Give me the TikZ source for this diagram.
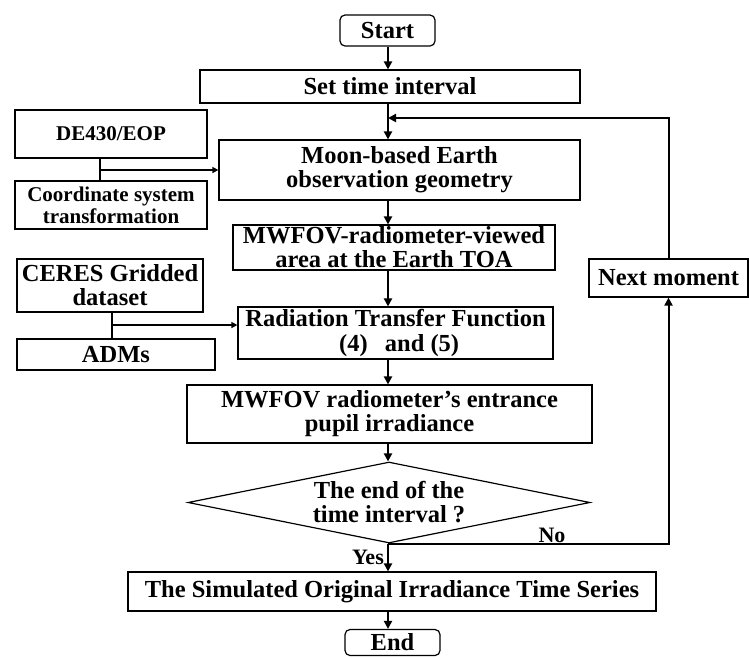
\documentclass[tikz,border=0pt]{standalone}
\usepackage{fontspec}
\setmainfont{Liberation Serif}
\usetikzlibrary{shapes.geometric,arrows.meta}

\begin{document}
\begin{tikzpicture}[x=1pt,y=-1pt,
  procbox/.style={rectangle, draw, line width=1.2pt, align=center, inner sep=1pt,
    font=\bfseries\fontsize{24.5}{24}\selectfont},
  termbox/.style={procbox, rounded corners=5pt},
  sidebox/.style={procbox, font=\bfseries\fontsize{21}{22}\selectfont},
  decbox/.style={diamond, draw, line width=1.2pt, aspect=5, inner sep=0pt, align=center,
    font=\bfseries\fontsize{24.5}{24}\selectfont},
  lbl/.style={inner sep=0pt, font=\bfseries\fontsize{22}{22}\selectfont},
  arr/.style={-{Triangle[length=8pt,width=8pt]}, line width=2pt},
  sidearr/.style={-{Triangle[length=6pt,width=6pt]}, line width=1.4pt},
  link/.style={line width=2pt}
]
\fill[white] (0,0) rectangle (749,657);
\useasboundingbox (0,0) rectangle (749,657);

% main column
\node[termbox, minimum width=95pt, minimum height=31pt] (start) at (387.5,30.5) {Start};
\node[procbox, minimum width=380pt, minimum height=33pt] (settime) at (390,86.5) {Set time interval};
\node[procbox, minimum width=361pt, minimum height=60pt] (geom) at (399.5,170) {Moon-based Earth\\observation geometry};
\node[procbox, minimum width=322pt, minimum height=45pt] (viewed) at (394,247.5) {MWFOV-radiometer-viewed\\area at the Earth TOA};
\node[procbox, minimum width=315pt, minimum height=52pt] (rtf) at (395.5,333) {Radiation Transfer Function\\[1pt]\hspace{0.3em}(4)\hspace{0.7em}and (5)};
\node[procbox, minimum width=405pt, minimum height=58pt] (pupil) at (389.5,414) {MWFOV radiometer’s entrance\\pupil irradiance};
\node[decbox, minimum width=402pt, minimum height=81pt] (isend) at (389,502.5) {The end of the\\time interval ?};
\node[procbox, minimum width=528pt, minimum height=39pt] (series) at (392,591.5) {The Simulated Original Irradiance Time Series};
\node[termbox, minimum width=95pt, minimum height=26pt] (finish) at (392.5,642.5) {End};

% inputs on the left, loop box on the right
\node[sidebox, minimum width=192pt, minimum height=48pt] (ephem) at (111,134) {DE430/EOP};
\node[sidebox, minimum width=192pt, minimum height=48pt] (transf) at (111,205) {Coordinate system\\transformation};
\node[procbox, minimum width=186pt, minimum height=53pt] (ceres) at (110,285.5) {CERES Gridded\\dataset};
\node[procbox, minimum width=198pt, minimum height=31pt] (adms) at (116,354.5) {ADMs};
\node[procbox, minimum width=159pt, minimum height=38pt] (nextm) at (668.5,278) {Next moment};

\coordinate (axis) at (388,0);
\coordinate (ja) at (100,170);
\coordinate (jb) at (112,325);
\coordinate (loopin) at (388,118);

% main flow
\draw[arr] (start.south -| axis) -- (settime.north -| axis);
\draw[arr] (settime.south -| axis) -- (geom.north -| axis);
\draw[arr] (geom.south -| axis) -- (viewed.north -| axis);
\draw[arr] (viewed.south -| axis) -- (rtf.north -| axis);
\draw[arr] (rtf.south -| axis) -- (pupil.north -| axis);
\draw[arr] (pupil.south -| axis) -- (isend.north -| axis);
\draw[arr] (isend.south -| axis) -- (series.north -| axis);
\draw[arr] (series.south -| axis) -- (finish.north -| axis);

% loop back
\draw[arr] (isend.south -| axis) -| (nextm.south);
\draw[arr] (nextm.north) |- (loopin);
\node[lbl, anchor=east] (yes) at (384,557) {Yes};
\node[lbl] (no) at (552,535) {No};

% side inputs
\draw[link] (ephem.south -| ja) -- (transf.north -| ja);
\draw[sidearr] (ja) -- (ja -| geom.west);
\draw[link] (ceres.south -| jb) -- (adms.north -| jb);
\draw[sidearr] (jb) -- (jb -| rtf.west);

\end{tikzpicture}
\end{document}
